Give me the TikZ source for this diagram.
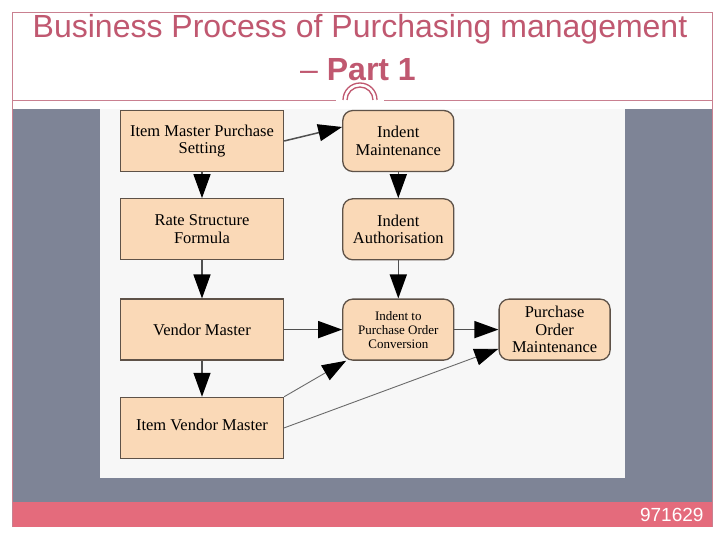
\documentclass[tikz,border=0pt]{standalone}
\usepackage{fontspec}
\setmainfont{Liberation Serif}
\newfontfamily\titlefont{Liberation Sans}
\usetikzlibrary{shapes, arrows.meta, positioning, calc}

\definecolor{titlered}{HTML}{C05870}
\definecolor{framered}{HTML}{C98090}
\definecolor{slate}{HTML}{7E8496}
\definecolor{footpink}{HTML}{E46B7C}
\definecolor{panel}{HTML}{F7F7F7}
\definecolor{peach}{HTML}{FAD9B7}
\definecolor{boxline}{HTML}{5E5248}
\definecolor{arrowgray}{HTML}{505050}

\begin{document}
\begin{tikzpicture}[x=1pt, y=-1pt, node distance=30pt,
    % Define node styles for the square and the rounded boxes.
    master/.style={
      rectangle, minimum width=163pt, minimum height=61pt, inner sep=2pt,
      draw=boxline, line width=1.3pt, fill=peach,
      align=center, font=\fontsize{16.5}{17.5}\selectfont
    },
    task/.style={
      master, rounded corners=10pt, minimum width=111pt
    },
    arrow/.style={draw=arrowgray, line width=1.5pt, -{Triangle[length=24pt, width=17pt, color=black]}},
    thinarrow/.style={arrow, draw=arrowgray!85, line width=0.9pt}
]

% Slide background
\useasboundingbox (0,0) rectangle (720,540);
\fill[white] (0,0) rectangle (720,540);
\fill[slate] (12,109) rectangle (712,502);
\fill[panel] (100,109) rectangle (625,478);
\fill[footpink] (12,502) rectangle (712,527);
\draw[framered, line width=0.8pt] (12,527) -- (12,12) -- (712,12) -- (712,527);
\draw[framered, line width=0.8pt] (12,100) -- (336,100) (384,100) -- (712,100);

% Small double arch on the title line
\draw[titlered, line width=1.3pt] (343,100) arc (180:0:17pt);
\draw[titlered, line width=1.3pt] (347,100) arc (180:0:13pt);

% Title
\node[anchor=base, text=titlered, font=\titlefont\fontsize{32}{38}\selectfont] (titleA) at (360,38) {Business Process of Purchasing management};
\node[anchor=base, text=titlered, font=\titlefont\fontsize{32}{38}\selectfont] (titleB) at (358,81) {– \textbf{Part 1}};

% Node 1: Item Master Purchase Setting
\node [master] (itemMaster) at (202,141) {Item Master Purchase\\Setting};

% Node 2: Rate Structure Formula
\node [master, below=26pt of itemMaster] (rateStructure) {Rate Structure\\Formula};

% Node 3: Vendor Master
\node [master, below=38pt of rateStructure] (vendorMaster) {Vendor Master};

% Node 4: Item Vendor Master (text sits in the upper part of the box)
\node [master, below=36pt of vendorMaster] (itemVendor) {\raisebox{7pt}{Item Vendor Master}};

% Node 5: Indent Maintenance
\node [task, right=58pt of itemMaster] (indentMaint) {Indent\\Maintenance};

% Node 6: Indent Authorisation
\node [task, below=26pt of indentMaint] (indentAuth) {Indent\\Authorisation};

% Node 7: Indent to Purchase Order Conversion (smaller text)
\node [task, below=38pt of indentAuth, font=\fontsize{13}{14}\selectfont] (indentToPO) {Indent to\\Purchase Order\\Conversion};

% Node 8: Purchase Order Maintenance
\node [task, right=44pt of indentToPO] (poMaint) {Purchase\\Order\\Maintenance};

% Footer number
\node[anchor=east, text=white, font=\titlefont\fontsize{19}{22}\selectfont] (slideNo) at (707,515) {971629};

% Draw arrows connecting the nodes
\draw [arrow] (itemMaster.east) -- ([yshift=14pt]indentMaint.west);
\draw [arrow] (itemMaster) -- (rateStructure);
\draw [arrow] (rateStructure) -- (vendorMaster);
\draw [arrow] (vendorMaster) -- (itemVendor);
\draw [arrow] (indentMaint) -- (indentAuth);
\draw [arrow] (indentAuth) -- (indentToPO);
\draw [arrow] (vendorMaster) -- (indentToPO);
\draw [arrow] (indentToPO) -- (poMaint);
\draw [thinarrow] (itemVendor.north east) -- ([xshift=4pt]indentToPO.south west);
\draw [thinarrow] (itemVendor.east) -- ([yshift=12pt]poMaint.south west);

\end{tikzpicture}
\end{document}
